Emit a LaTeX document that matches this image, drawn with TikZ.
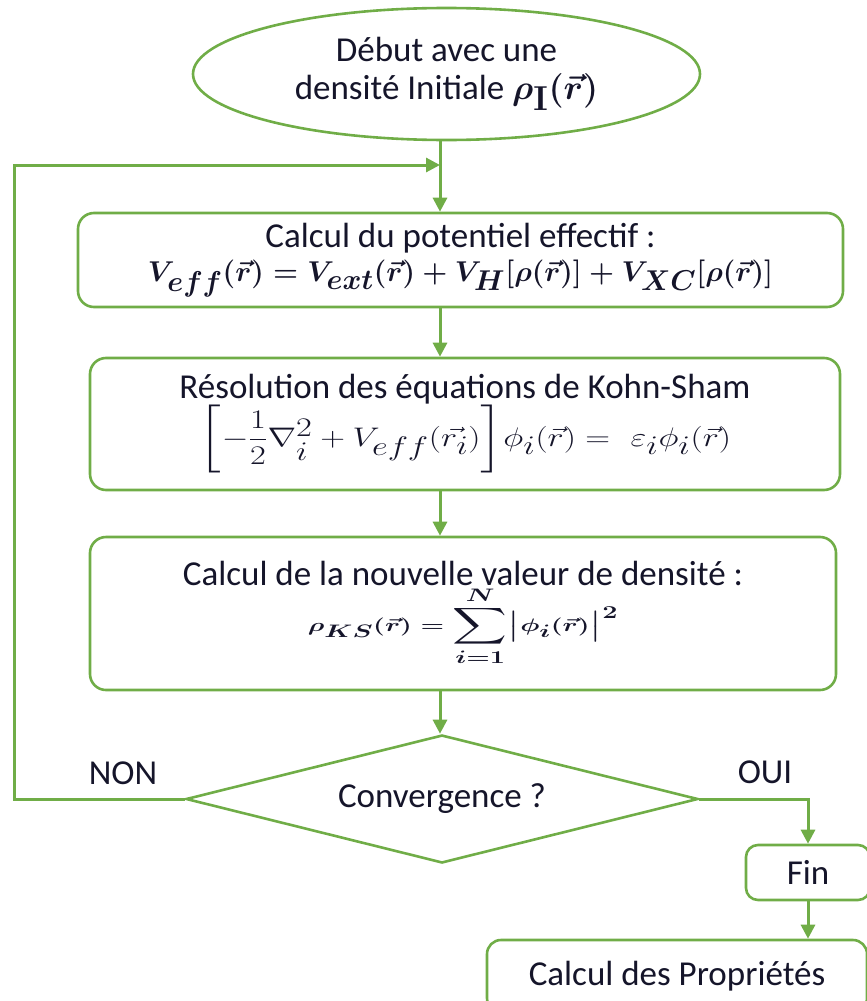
\documentclass[tikz,border=0pt]{standalone}
\usepackage{amsmath,amssymb}
\usepackage{graphicx}
\usepackage{fontspec}
\setmainfont{Carlito}
\usetikzlibrary{shapes.geometric,arrows.meta}
\definecolor{gr}{HTML}{70AD47}
\definecolor{tx}{HTML}{15152A}
\newcommand{\myformA}{\resizebox{625pt}{!}{\boldmath$V_{eff}(\vec{r}) = V_{ext}(\vec{r}) + V_{H}\lbrack\rho(\vec{r})\rbrack + V_{XC}\lbrack\rho(\vec{r})\rbrack$}}
\newcommand{\myformB}{\resizebox*{532pt}{68pt}{$\biggl\lbrack-\dfrac{1}{2}\nabla_i^2 + V_{eff}(\vec{r_i})\biggr\rbrack\phi_i(\vec{r}) =\ \varepsilon_i\phi_i(\vec{r})$}}
\newcommand{\myformC}{\resizebox*{310pt}{80pt}{\boldmath$\displaystyle \rho_{KS}(\vec{r}) = \sum_{i=1}^{N}\bigl|\phi_i(\vec{r})\bigr|^2$}}
\newcommand{\myformD}{\resizebox{86pt}{!}{$\boldsymbol{\rho_{\mathbf{I}}(\vec{r})}$}}
\begin{document}
\begin{tikzpicture}[x=1pt,y=-1pt,
  every node/.style={text=tx,font=\fontsize{35}{38}\selectfont},
  boxst/.style={draw=gr,line width=2.6pt,rounded corners=16pt,inner sep=0pt,align=center},
  conn/.style={draw=gr,line width=3pt},
  arr/.style={conn,-{Triangle[length=14pt,width=14pt]}}]
\useasboundingbox (0,0) rectangle (867,1001);
\clip (0,0) rectangle (867,1001);
\coordinate (ax) at (440,0);
\node[draw=gr,line width=2.6pt,ellipse,minimum width=507pt,minimum height=132pt,inner sep=0pt,align=center] (start) at (446.5,74)
  {D\'ebut avec une\\ densit\'e Initiale \myformD};
\node[boxst,minimum width=765pt,minimum height=94pt,font=\fontsize{35}{34}\selectfont] (b1) at (460.5,260)
  {Calcul du potentiel effectif :\\ \myformA};
\node[boxst,minimum width=750pt,minimum height=132pt,font=\fontsize{35}{34}\selectfont] (b2) at (465,424)
  {\setlength{\lineskip}{4pt}R\'esolution des \'equations de Kohn-Sham\\ \myformB};
\node[boxst,minimum width=746pt,minimum height=153pt,font=\fontsize{35}{34}\selectfont] (b3) at (463,613.5)
  {\setlength{\lineskip}{6pt}Calcul de la nouvelle valeur de densit\'e :\\ \myformC};
\node[draw=gr,line width=2.6pt,diamond,aspect=4,minimum width=512pt,minimum height=128pt,inner sep=0pt] (dia) at (442,799) {Convergence ?};
\node[boxst,rounded corners=12pt,minimum width=124pt,minimum height=55pt] (fin) at (808,872.5) {Fin};
\node[boxst,rounded corners=14pt,minimum width=380pt,minimum height=72pt] (prop) at (677,976) {Calcul des Propri\'et\'es};
\node (non) at (123,773) {NON};
\node (oui) at (765,772) {OUI};
\coordinate (loopin) at (440,165);
\coordinate (nw) at (14,165);
\coordinate (sw) at (14,799);
\draw[conn] (ax |- start.south) -- (loopin);
\draw[arr] (loopin) -- (ax |- b1.north);
\draw[arr] (ax |- b1.south) -- (ax |- b2.north);
\draw[arr] (ax |- b2.south) -- (ax |- b3.north);
\draw[arr] (ax |- b3.south) -- (ax |- dia.north);
\draw[arr] (dia.west) -- (sw) -- (nw) -- (loopin);
\draw[arr] (dia.east) -| (fin.north);
\draw[arr] (fin.south) -- (fin.south |- prop.north);
\end{tikzpicture}
\end{document}
